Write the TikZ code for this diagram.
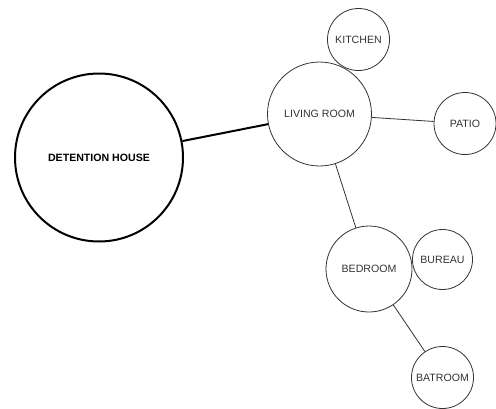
\documentclass[tikz,border=0pt]{standalone}
\usepackage{fontspec}
\setmainfont{Liberation Sans}
\usetikzlibrary{positioning}
\definecolor{ink}{HTML}{333333}
\newcommand{\roomfont}{\fontsize{10.6pt}{12pt}\selectfont}
\tikzset{
  room/.style={circle, draw=ink, line width=0.8pt, inner sep=0pt, text=ink, font=\roomfont},
  house/.style={circle, draw=black, line width=2pt, inner sep=0pt, text=black, font=\roomfont\bfseries},
  link/.style={draw=ink, line width=0.8pt},
  tie/.style={draw=black, line width=2pt},
}
\begin{document}
\begin{tikzpicture}[x=1pt, y=-1pt]
    \useasboundingbox (0,0) rectangle (496,408);
    \node[house, minimum size=168pt] (dh) at (99,157.5) {DETENTION HOUSE};
    \node[room, minimum size=104pt] (lr) at (319.5,114) {LIVING ROOM};
    \node[room, minimum size=62pt] (kit) at (358.5,39.5) {KITCHEN};
    \node[room, minimum size=62pt] (pat) at (465,123.5) {PATIO};
    \node[room, minimum size=86pt] (bed) at (369,269) {BEDROOM};
    \node[room, minimum size=60pt] (bur) at (442.5,259.5) {BUREAU};
    \node[room, minimum size=62pt] (bat) at (442.5,377.5) {BATROOM};
    \draw[tie] (dh) -- (lr);
    \draw[link] (lr) -- (pat);
    \draw[link] (lr) -- (bed);
    \draw[link] (bed) -- (bat);
\end{tikzpicture}
\end{document}
